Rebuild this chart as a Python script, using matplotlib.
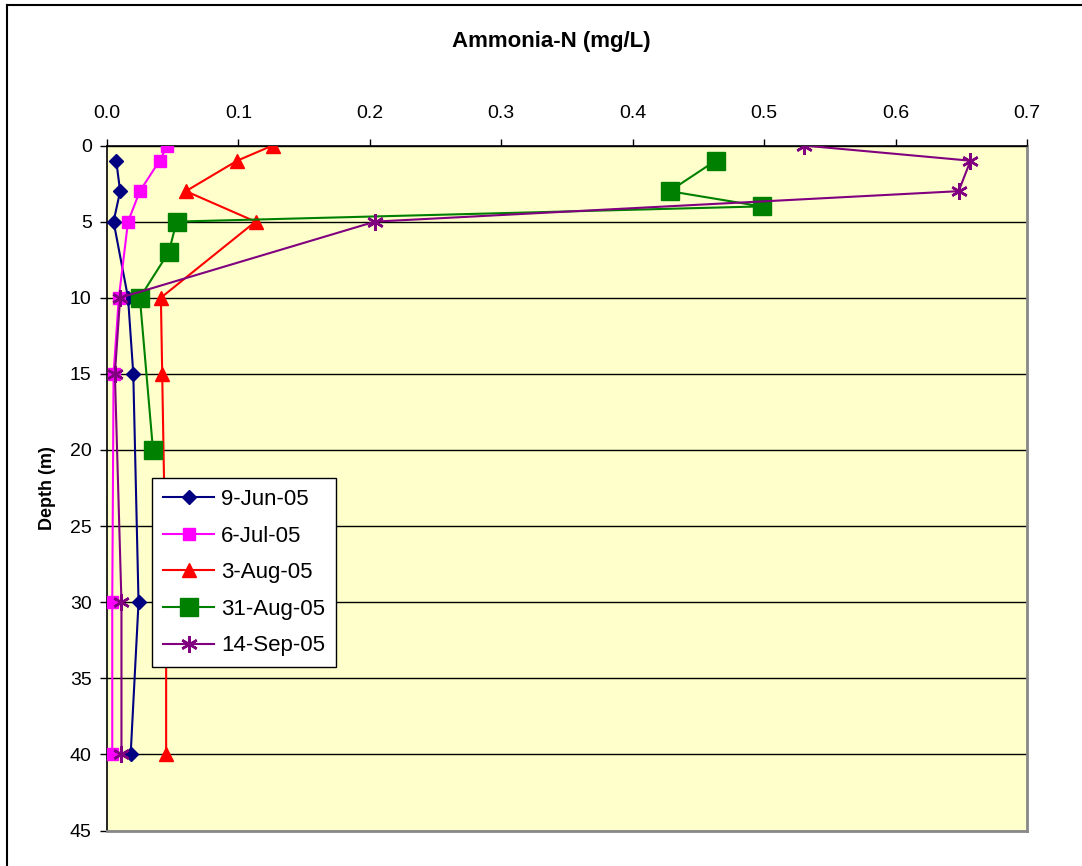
import matplotlib
matplotlib.use("Agg")
import matplotlib.pyplot as plt
from matplotlib.lines import Line2D
import numpy as np

plt.rcParams['font.family'] = ['Liberation Sans', 'DejaVu Sans']

# Data (depth in m, ammonia-N in mg/L)
jun9_depth = [1, 3, 5, 10, 15, 30, 40]
jun9_val = [0.007, 0.010, 0.005, 0.016, 0.020, 0.024, 0.018]

jul6_depth = [0, 1, 3, 5, 10, 15, 30, 40]
jul6_val = [0.046, 0.040, 0.025, 0.016, 0.009, 0.005, 0.004, 0.004]

aug3_depth = [0, 1, 3, 5, 10, 15, 30, 40]
aug3_val = [0.126, 0.099, 0.060, 0.113, 0.041, 0.042, 0.045, 0.045]

aug31_depth = [1, 3, 4, 5, 7, 10, 20]
aug31_val = [0.463, 0.428, 0.498, 0.053, 0.047, 0.025, 0.035]

sep14_depth = [0, 1, 3, 5, 10, 15, 30, 40]
sep14_val = [0.530, 0.657, 0.648, 0.204, 0.010, 0.006, 0.011, 0.011]

labels = ["9-Jun-05", "6-Jul-05", "3-Aug-05", "31-Aug-05", "14-Sep-05"]
x_ticks = [0.0, 0.1, 0.2, 0.3, 0.4, 0.5, 0.6, 0.7]
y_ticks = [0, 5, 10, 15, 20, 25, 30, 35, 40, 45]

fig = plt.figure(figsize=(10.82, 8.66), dpi=100)
W, H = 1082, 866
left, right, top, bottom = 107, 1027, 145.5, 830.5
ax = fig.add_axes([left / W, 1 - bottom / H, (right - left) / W, (bottom - top) / H])
ax.set_facecolor('#FFFFCC')

ax.plot(jun9_val, jun9_depth, color='#000080', marker='D', markersize=7, lw=1.5, label=labels[0], zorder=3)
ax.plot(jul6_val, jul6_depth, color='#FF00FF', marker='s', markersize=8, lw=1.5, label=labels[1], zorder=3)
ax.plot(aug3_val, aug3_depth, color='#FF0000', marker='^', markersize=10, lw=1.5, label=labels[2], zorder=3)
ax.plot(aug31_val, aug31_depth, color='#008000', marker='s', markersize=13, lw=1.5, label=labels[3], zorder=3)
ax.plot(sep14_val, sep14_depth, color='#800080', marker=(6, 2, 0), markersize=12, mew=1.8, lw=1.5, label=labels[4], zorder=3)

ax.set_xlim(0, 0.7)
ax.set_ylim(45, 0)
ax.set_xticks(x_ticks)
ax.set_xticklabels([f"{v:.1f}" for v in x_ticks])
ax.set_yticks(y_ticks)
ax.xaxis.tick_top()
ax.tick_params(axis='both', direction='out', length=5, width=1, labelsize=14, pad=6, colors='black')
ax.tick_params(axis='x', pad=12)
ax.yaxis.grid(True, color='black', lw=1)
ax.set_axisbelow(True)

for s in ['left', 'top']:
    ax.spines[s].set_color('black')
    ax.spines[s].set_linewidth(1.2)
for s in ['right', 'bottom']:
    ax.spines[s].set_color('#888888')
    ax.spines[s].set_linewidth(2)

fig.text(551 / W, 1 - 42 / H, "Ammonia-N (mg/L)", fontsize=16, fontweight='bold', ha='center', va='center')
ax.set_ylabel("Depth (m)", fontsize=13, fontweight='bold', labelpad=10)

leg = ax.legend(loc='upper left', bbox_to_anchor=((152 - left) / (right - left), 1 - (478 - top) / (bottom - top)),
                fontsize=16, frameon=True, fancybox=False, framealpha=1, edgecolor='black',
                borderpad=0.5, labelspacing=0.7, handlelength=2.3, handletextpad=0.3, borderaxespad=0)
leg.get_frame().set_linewidth(1)
leg.set_zorder(5)

# outer chart border (left and top)
fig.add_artist(Line2D([6.5 / W, 6.5 / W], [0, 1 - 5.3 / H], color='black', lw=1.5, transform=fig.transFigure))
fig.add_artist(Line2D([6.5 / W, 1], [1 - 5.3 / H, 1 - 5.3 / H], color='black', lw=1.5, transform=fig.transFigure))

fig.savefig("out.png", dpi=100)
